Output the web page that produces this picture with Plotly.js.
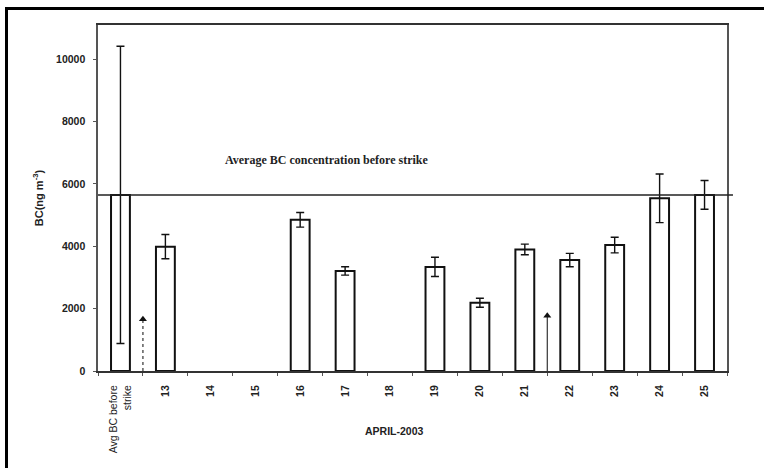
<!DOCTYPE html>
<html>
<head>
<meta charset="utf-8">
<script src="https://cdn.plot.ly/plotly-3.0.1.min.js"></script>
<style>
  html, body { margin: 0; padding: 0; width: 764px; height: 468px; overflow: hidden; background: #fff; }
  #chart { width: 764px; height: 468px; }
  #frame { position: absolute; left: 5px; top: 7px; width: 820px; height: 520px; border: 3px solid #000; pointer-events: none; }
</style>
</head>
<body>
<div id="chart"></div>
<div id="frame"></div>
<script>
// ---- data ----
const categories = ['Avg BC before<br>strike', '13', '14', '15', '16', '17', '18', '19', '20', '21', '22', '23', '24', '25'];
const bcValues = [5650, 3990, null, null, 4850, 3210, null, 3340, 2190, 3900, 3560, 4040, 5540, 5650];
const bcErrors = [4770, 390, null, null, 235, 135, null, 310, 145, 170, 215, 250, 780, 460];
const avgBefore = 5650;
const avgLabel = 'Average BC concentration before strike';
const arrowPos = [0.5, 9.5];
const arrowTip = [1660, 1770];
const yTicks = [0, 2000, 4000, 6000, 8000, 10000];
const xTitle = 'APRIL-2003';
const yTitle = 'BC(ng m<sup>-3</sup>)';

const idx = categories.map((c, i) => i);
const tickLabels = categories.map((c, i) => i === 0 ? c : '<b>' + c + '</b>');

const traces = [
  {
    type: 'bar',
    x: idx,
    y: bcValues,
    width: 0.42,
    marker: { color: '#ffffff', line: { color: '#111', width: 2 } },
    error_y: { type: 'data', array: bcErrors, visible: true, color: '#111', thickness: 1.4, width: 4 },
    hoverinfo: 'none'
  },
  {
    type: 'scatter', mode: 'lines',
    x: [arrowPos[0], arrowPos[0]], y: [0, arrowTip[0]],
    line: { color: '#333', width: 1.2, dash: 'dot' }, hoverinfo: 'none'
  },
  {
    type: 'scatter', mode: 'lines',
    x: [arrowPos[1], arrowPos[1]], y: [0, arrowTip[1]],
    line: { color: '#333', width: 1.2 }, hoverinfo: 'none'
  },
  {
    type: 'scatter', mode: 'markers',
    x: arrowPos, y: arrowTip,
    marker: { symbol: 'triangle-up', size: 7, color: '#111' }, hoverinfo: 'none'
  }
];

const layout = {
  width: 764, height: 468,
  margin: { l: 98, r: 37, t: 25, b: 97 },
  paper_bgcolor: '#fff', plot_bgcolor: '#fff',
  showlegend: false,
  font: { family: 'Liberation Sans, Arial, sans-serif', color: '#222' },
  xaxis: {
    type: 'linear', range: [-0.5, 13.5],
    tickmode: 'array', tickvals: idx, ticktext: tickLabels,
    tickangle: -90, ticks: '', ticklabelstandoff: 8,
    tickfont: { size: 10.5, family: 'Liberation Sans, Arial, sans-serif', color: '#222' },
    minor: { ticks: 'outside', tickmode: 'linear', tick0: 0.5, dtick: 1, ticklen: 3, tickcolor: '#555', tickwidth: 1, showgrid: false },
    showline: true, linecolor: '#333', linewidth: 2, mirror: true,
    showgrid: false, zeroline: false, fixedrange: true
  },
  yaxis: {
    range: [0, 11100],
    tickmode: 'array', tickvals: yTicks, ticktext: yTicks.map(v => '<b>' + v + '</b>'),
    ticks: 'outside', ticklen: 3, tickcolor: '#555', ticklabelstandoff: 6,
    tickfont: { size: 10.5, family: 'Liberation Sans, Arial, sans-serif', color: '#222' },
    showline: true, linecolor: '#555', linewidth: 1.6, mirror: true,
    showgrid: false, zeroline: false, fixedrange: true,
    title: { text: '<b>' + yTitle + '</b>', font: { size: 11, family: 'Liberation Sans, Arial, sans-serif', color: '#222' }, standoff: 10 }
  },
  shapes: [
    { type: 'line', xref: 'paper', yref: 'y', x0: 0, x1: 1.0095, y0: avgBefore, y1: avgBefore, line: { color: '#222', width: 1.5 } }
  ],
  annotations: [
    { xref: 'x', yref: 'y', x: 4.6, y: 6775, text: '<b>' + avgLabel + '</b>', showarrow: false,
      font: { family: 'Liberation Serif, Times New Roman, serif', size: 12, color: '#222' } },
    { xref: 'paper', yref: 'paper', x: 0.472, y: -0.173, yanchor: 'middle', text: '<b>' + xTitle + '</b>', showarrow: false,
      font: { family: 'Liberation Sans, Arial, sans-serif', size: 10.5, color: '#222' } }
  ]
};

Plotly.newPlot('chart', traces, layout, { displayModeBar: false, staticPlot: true });
</script>
</body>
</html>
